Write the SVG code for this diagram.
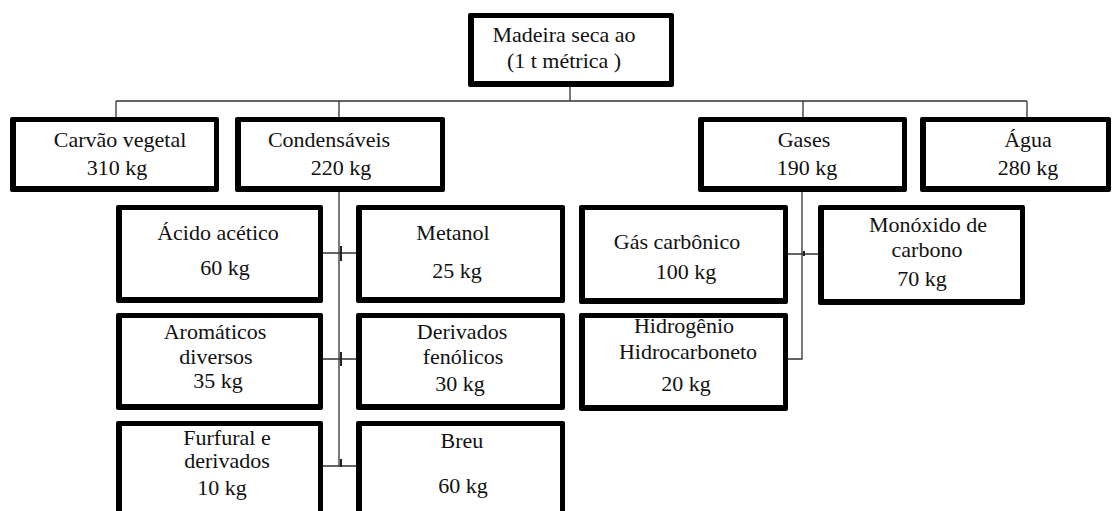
<svg xmlns="http://www.w3.org/2000/svg" width="1115" height="511" viewBox="0 0 1115 511" font-family="'Liberation Serif', Tinos, 'Times New Roman', 'DejaVu Serif', serif">
<style>
.o{fill:#000}
.i{fill:#fff}
text{font-family:'Liberation Serif',Tinos,'Times New Roman','DejaVu Serif',serif;font-size:22px;fill:#111;text-anchor:middle}
.c{stroke:#333;stroke-width:1.3;fill:none}
.t{stroke:#222;stroke-width:2;fill:none}
</style>
<rect width="1115" height="511" fill="#fff"/>
<g id="connectors">
<path class="c" d="M570 87V101M116 101H1027M116 101V117M339 101V117M803 101V117M1027 101V117"/>
<path class="c" d="M339 192V466M323 253H356M323 359H356M323 466H356"/>
<path class="t" d="M341 246V261M341 352V366M341 459V467"/>
<path class="c" d="M802 192V359H788M788 254H818"/>
<path class="t" d="M804 251V256"/>
</g>
<g id="n-madeira"><rect class="o" x="468" y="13" width="206" height="74" rx="2"/><rect class="i" x="474" y="18" width="195" height="63"/><text x="564" y="42">Madeira seca ao</text><text x="564" y="68">(1 t métrica )</text></g>
<g id="n-carvao"><rect class="o" x="10" y="117" width="209" height="75" rx="2"/><rect class="i" x="16" y="122" width="198" height="64"/><text x="120" y="147">Carvão vegetal</text><text x="117" y="175">310 kg</text></g>
<g id="n-condensaveis"><rect class="o" x="235" y="117" width="210" height="75" rx="2"/><rect class="i" x="241" y="122" width="199" height="64"/><text x="329" y="147">Condensáveis</text><text x="341" y="175">220 kg</text></g>
<g id="n-gases"><rect class="o" x="698" y="117" width="209" height="75" rx="2"/><rect class="i" x="704" y="122" width="198" height="64"/><text x="804" y="147">Gases</text><text x="807" y="175">190 kg</text></g>
<g id="n-agua"><rect class="o" x="920" y="117" width="191" height="75" rx="2"/><rect class="i" x="926" y="122" width="180" height="64"/><text x="1028" y="147">Água</text><text x="1028" y="175">280 kg</text></g>
<g id="n-acido"><rect class="o" x="116" y="205" width="207" height="98" rx="2"/><rect class="i" x="122" y="210" width="196" height="87"/><text x="218" y="240">Ácido acético</text><text x="225" y="275">60 kg</text></g>
<g id="n-metanol"><rect class="o" x="356" y="205" width="209" height="98" rx="2"/><rect class="i" x="362" y="210" width="198" height="87"/><text x="453" y="240">Metanol</text><text x="457" y="278">25 kg</text></g>
<g id="n-gas-carbonico"><rect class="o" x="579" y="205" width="209" height="99" rx="2"/><rect class="i" x="585" y="210" width="198" height="88"/><text x="677" y="249">Gás carbônico</text><text x="686" y="279">100 kg</text></g>
<g id="n-monoxido"><rect class="o" x="818" y="205" width="207" height="100" rx="2"/><rect class="i" x="824" y="210" width="196" height="89"/><text x="928" y="232">Monóxido de</text><text x="927" y="257">carbono</text><text x="922" y="286">70 kg</text></g>
<g id="n-aromaticos"><rect class="o" x="116" y="313" width="207" height="97" rx="2"/><rect class="i" x="122" y="318" width="196" height="86"/><text x="215" y="339">Aromáticos</text><text x="216" y="364">diversos</text><text x="218" y="388">35 kg</text></g>
<g id="n-fenolicos"><rect class="o" x="356" y="313" width="209" height="97" rx="2"/><rect class="i" x="362" y="318" width="198" height="86"/><text x="462" y="339">Derivados</text><text x="463" y="364">fenólicos</text><text x="460" y="391">30 kg</text></g>
<g id="n-hidrogenio"><rect class="o" x="579" y="313" width="209" height="98" rx="2"/><rect class="i" x="585" y="318" width="198" height="87"/><text x="684" y="333">Hidrogênio</text><text x="688" y="359">Hidrocarboneto</text><text x="686" y="391">20 kg</text></g>
<g id="n-furfural"><rect class="o" x="116" y="421" width="207" height="110" rx="2"/><rect class="i" x="122" y="426" width="196" height="99"/><text x="227" y="445">Furfural e</text><text x="227" y="468">derivados</text><text x="222" y="495">10 kg</text></g>
<g id="n-breu"><rect class="o" x="356" y="421" width="209" height="110" rx="2"/><rect class="i" x="362" y="426" width="198" height="99"/><text x="462" y="448">Breu</text><text x="463" y="493">60 kg</text></g>
</svg>
